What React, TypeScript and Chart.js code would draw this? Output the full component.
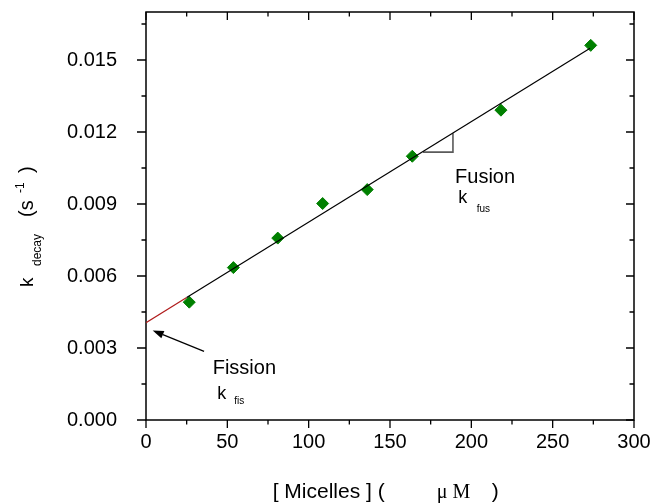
import React, { useEffect, useRef } from 'react';
import { Chart, registerables } from 'chart.js';

Chart.register(...registerables);

// ---- data ----
const micelles = [26.6, 53.7, 81.0, 108.6, 136.0, 163.7, 218.2, 273.4];
const kDecay = [0.00491, 0.00635, 0.00758, 0.00902, 0.0096, 0.01099, 0.01291, 0.01561];

const fissionFitX = [0, 25];
const fissionFitY = [0.00405, 0.0051];
const fusionFitX = [25, 273];
const fusionFitY = [0.0051, 0.01549];

const slopeTriX = [170.3, 188.7, 188.7];
const slopeTriY = [0.01116, 0.01116, 0.01195];

const arrowTail = { x: 35.7, y: 0.00286 };
const arrowTip = { x: 4.1, y: 0.00373 };

const fusionLabelAt = { x: 190, y: 0.00988 };
const fissionLabelAt = { x: 41, y: 0.00193 };

const xTicks = [0, 50, 100, 150, 200, 250, 300];
const xMinorTicks = [25, 75, 125, 175, 225, 275];
const yTicks = [0, 0.003, 0.006, 0.009, 0.012, 0.015];
const yMinorTicks = [0.0015, 0.0045, 0.0075, 0.0105, 0.0135, 0.0165];

const SANS = '"Liberation Sans", Arial, sans-serif';
const SERIF = '"Liberation Serif", "Times New Roman", serif';

const pts = (xs: number[], ys: number[]) => xs.map((x, i) => ({ x, y: ys[i] }));

const decorPlugin = {
  id: 'decor',
  beforeDatasetsDraw(chart: any) {
    const { ctx, chartArea } = chart;
    const { left, right, top, bottom } = chartArea;
    const xs = chart.scales.x;
    const ys = chart.scales.y;
    ctx.save();
    ctx.strokeStyle = '#000';
    ctx.lineWidth = 1.5;
    ctx.strokeRect(left, top, right - left, bottom - top);
    ctx.lineWidth = 1.3;
    ctx.beginPath();
    xTicks.forEach((v) => {
      const p = xs.getPixelForValue(v);
      ctx.moveTo(p, bottom); ctx.lineTo(p, bottom + 8);
      ctx.moveTo(p, top); ctx.lineTo(p, top + 8);
    });
    xMinorTicks.forEach((v) => {
      const p = xs.getPixelForValue(v);
      ctx.moveTo(p, bottom); ctx.lineTo(p, bottom + 4.5);
      ctx.moveTo(p, top); ctx.lineTo(p, top + 4.5);
    });
    yTicks.forEach((v) => {
      const p = ys.getPixelForValue(v);
      ctx.moveTo(left - 9, p); ctx.lineTo(left, p);
      ctx.moveTo(right, p); ctx.lineTo(right - 8, p);
    });
    yMinorTicks.forEach((v) => {
      const p = ys.getPixelForValue(v);
      ctx.moveTo(left - 4.5, p); ctx.lineTo(left, p);
      ctx.moveTo(right, p); ctx.lineTo(right - 4.5, p);
    });
    ctx.stroke();
    ctx.restore();
  },
  afterDraw(chart: any) {
    const { ctx } = chart;
    const xs = chart.scales.x;
    const ys = chart.scales.y;
    const txt = (s: string, x: number, y: number, size: number, fam = SANS) => {
      ctx.font = `${size}px ${fam}`;
      ctx.fillText(s, x, y);
    };
    ctx.save();
    ctx.fillStyle = '#000';
    ctx.textAlign = 'left';
    ctx.textBaseline = 'alphabetic';

    // arrow
    const sx = xs.getPixelForValue(arrowTail.x), sy = ys.getPixelForValue(arrowTail.y);
    const tx = xs.getPixelForValue(arrowTip.x), ty = ys.getPixelForValue(arrowTip.y);
    const ang = Math.atan2(ty - sy, tx - sx);
    const hl = 11, hw = 4;
    const bx = tx - hl * Math.cos(ang), by = ty - hl * Math.sin(ang);
    ctx.strokeStyle = '#000';
    ctx.lineWidth = 1.2;
    ctx.beginPath(); ctx.moveTo(sx, sy); ctx.lineTo(bx, by); ctx.stroke();
    ctx.beginPath();
    ctx.moveTo(tx, ty);
    ctx.lineTo(bx + hw * Math.sin(ang), by - hw * Math.cos(ang));
    ctx.lineTo(bx - hw * Math.sin(ang), by + hw * Math.cos(ang));
    ctx.closePath(); ctx.fill();

    // Fusion label
    const fx = xs.getPixelForValue(fusionLabelAt.x), fy = ys.getPixelForValue(fusionLabelAt.y);
    txt('Fusion', fx, fy, 20);
    txt('k', fx + 3.3, fy + 20, 18);
    txt('fus', fx + 21.7, fy + 29.6, 10);

    // Fission label
    const gx = xs.getPixelForValue(fissionLabelAt.x), gy = ys.getPixelForValue(fissionLabelAt.y);
    txt('Fission', gx, gy, 20);
    txt('k', gx + 4.6, gy + 25.4, 18);
    txt('fis', gx + 21.6, gy + 30.7, 10);

    // x axis title
    txt('[ Micelles ] (', 272.7, 498, 21);
    txt('\u03bc M', 436.7, 498, 20, SERIF);
    txt(')', 491.7, 498, 21);

    // y axis title (rotated)
    ctx.translate(33, 287);
    ctx.rotate(-Math.PI / 2);
    txt('k', 0, 0, 19);
    txt('decay', 21, 8, 12);
    txt('(s', 70, 0, 20);
    txt('-1', 94, -9, 12);
    txt(')', 114, 0, 20);
    ctx.restore();
  },
};

export default function App() {
  const ref = useRef<HTMLCanvasElement | null>(null);
  useEffect(() => {
    document.body.style.margin = '0';
    const canvas = ref.current;
    if (!canvas) return;
    const chart = new Chart(canvas, {
      type: 'scatter',
      data: {
        datasets: [
          {
            data: pts(fusionFitX, fusionFitY),
            showLine: true,
            borderColor: '#000',
            borderWidth: 1.2,
            pointRadius: 0,
            order: 0,
          },
          {
            data: pts(fissionFitX, fissionFitY),
            showLine: true,
            borderColor: '#b01c1c',
            borderWidth: 1.2,
            pointRadius: 0,
            order: 0,
          },
          {
            data: pts(slopeTriX, slopeTriY),
            showLine: true,
            borderColor: '#5a5a5a',
            borderWidth: 1.6,
            pointRadius: 0,
            order: 0,
          },
          {
            data: pts(micelles, kDecay),
            showLine: false,
            pointStyle: 'rectRot',
            pointRadius: 6,
            backgroundColor: '#008000',
            borderColor: '#008000',
            borderWidth: 1,
            order: 1,
          },
        ],
      } as any,
      options: {
        animation: false,
        responsive: true,
        maintainAspectRatio: false,
        events: [],
        layout: { padding: { top: 12, right: 37, left: 0, bottom: 0 } },
        plugins: { legend: { display: false }, tooltip: { enabled: false } },
        scales: {
          x: {
            type: 'linear',
            position: 'bottom',
            min: 0,
            max: 300,
            afterBuildTicks: (s: any) => { s.ticks = xTicks.map((v) => ({ value: v })); },
            afterFit: (s: any) => { s.height = 83; s.paddingLeft = 0; s.paddingRight = 0; },
            grid: { display: false, drawTicks: false },
            border: { display: false },
            ticks: {
              color: '#000',
              font: { family: SANS, size: 20 },
              padding: 10,
              maxRotation: 0,
              autoSkip: false,
              callback: (v: any) => String(v),
            },
          },
          y: {
            type: 'linear',
            min: 0,
            max: 0.017,
            afterBuildTicks: (s: any) => { s.ticks = yTicks.map((v) => ({ value: v })); },
            afterFit: (s: any) => { s.width = 146; s.paddingTop = 0; s.paddingBottom = 0; },
            grid: { display: false, drawTicks: false },
            border: { display: false },
            ticks: {
              color: '#000',
              font: { family: SANS, size: 20 },
              padding: 29,
              autoSkip: false,
              callback: (v: any) => Number(v).toFixed(3),
            },
          },
        },
      } as any,
      plugins: [decorPlugin],
    });
    return () => chart.destroy();
  }, []);
  return (
    <div style={{ position: 'fixed', left: 0, top: 0, width: 671, height: 503 }}>
      <canvas ref={ref} />
    </div>
  );
}
